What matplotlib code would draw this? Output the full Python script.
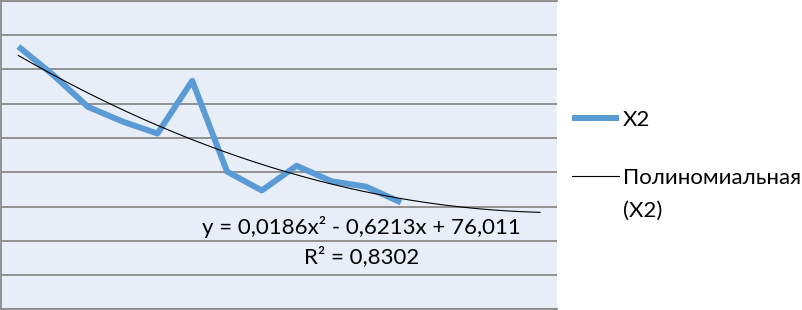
import numpy as np
import matplotlib
matplotlib.use('Agg')
import matplotlib.pyplot as plt
from matplotlib.legend_handler import HandlerLine2D

plt.rcParams['font.family'] = ['Lato', 'Open Sans', 'DejaVu Sans']

# values
periods = list(range(1, 13))
x2 = [75.67, 74.84, 73.91, 73.48, 73.13, 74.67, 72.02, 71.47, 72.19, 71.74, 71.58, 71.12]
trend_coef = [0.0186, -0.6213, 76.011]  # a*x^2 + b*x + c
trend_end = 16
eq_text = 'y = 0,0186x² - 0,6213x + 76,011'
r2_text = 'R² = 0,8302'


class TopLineHandler(HandlerLine2D):
    # put the legend line next to the first line of a two-line label
    def create_artists(self, legend, orig_handle, xdescent, ydescent,
                       width, height, fontsize, trans):
        return super().create_artists(legend, orig_handle, xdescent,
                                      ydescent - 1.75 * fontsize, width, height,
                                      fontsize, trans)


fig = plt.figure(figsize=(8.03, 3.10), dpi=100)
ax = fig.add_axes([0.0012, 0.002, 0.693, 0.995])
ax.set_facecolor('#e8eef7')

xs = np.linspace(1, trend_end, 200)
ys = np.polyval(trend_coef, xs)

blue, = ax.plot(periods, x2, color='#5b9bd5', linewidth=4.3, label='X2',
                solid_capstyle='butt', zorder=3)
trend, = ax.plot(xs, ys, color='black', linewidth=0.8,
                 label='Полиномиальная\n(X2)', zorder=4)

ax.set_xlim(0.5, 16.5)
ax.set_ylim(68, 77)
ax.set_yticks(np.arange(68, 78, 1))
ax.set_xticks([])
ax.tick_params(axis='y', length=0, labelleft=False)
ax.grid(axis='y', color='#8a8a8a', linewidth=1.3)
ax.set_axisbelow(True)
for side in ['top', 'bottom', 'left']:
    ax.spines[side].set_color('#8a8a8a')
    ax.spines[side].set_linewidth(1.3)
ax.spines['right'].set_visible(False)

ax.text(361 / 557, 1 - 226 / 309, eq_text, transform=ax.transAxes,
        ha='center', va='center', fontsize=16)
ax.text(361 / 557, 1 - 256 / 309, r2_text, transform=ax.transAxes,
        ha='center', va='center', fontsize=16)

leg = fig.legend(loc='upper left', bbox_to_anchor=(572 / 803, 1 - 110 / 310),
                 frameon=False, fontsize=16, handlelength=2.1, handletextpad=0.2,
                 labelspacing=1.73, borderpad=0, borderaxespad=0,
                 handler_map={trend: TopLineHandler()})
for t in leg.get_texts():
    t.set_linespacing(1.8)

fig.savefig('out.png', dpi=100)
